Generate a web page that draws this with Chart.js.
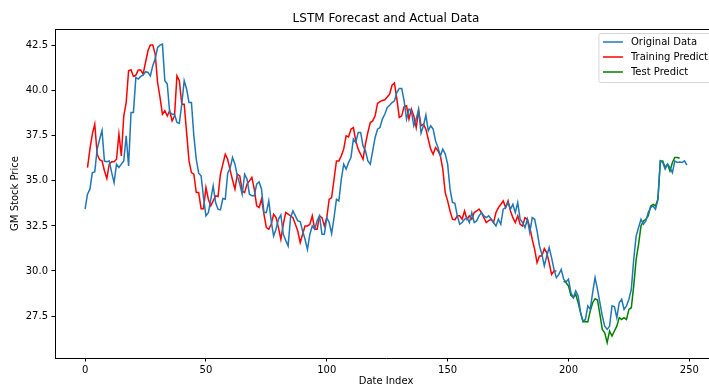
<!DOCTYPE html>
<html><head><meta charset="utf-8">
<script src="https://cdn.jsdelivr.net/npm/chart.js@4/dist/chart.umd.min.js"></script>
<style>
html,body{margin:0;padding:0;overflow:hidden;background:#fff;width:709px;height:387px;}
#wrap{position:absolute;left:0;top:0;width:730px;height:387px;}
</style></head><body>
<div id="wrap"><canvas id="c" width="730" height="387"></canvas></div>
<script>
// ---- data ----
const originalData = [
33.43,34.26,34.54,35.46,35.5,36.76,37.3,37.8,36.1,36.06,
36.1,35.46,34.9,35.93,35.74,35.93,36.1,37.5,35.83,38.8,
38.8,40.74,40.65,40.8,40.87,41.06,41.02,40.83,41.39,41.76,
42.41,42.54,42.59,40.56,40.37,38.8,38.7,38.7,38.24,38.2,
39.26,40.56,40.1,39.35,39.35,37.5,36.2,35.43,35.28,34.07,
33.06,33.24,33.98,34.72,33.8,33.43,33.39,34.02,33.98,35.43,
35.7,36.3,35.93,35.28,34.82,34.26,35.37,35.1,34.26,34.17,
34.17,34.82,34.95,34.54,33.24,33.24,33.89,32.78,31.94,32.32,
32.87,33.11,32.04,31.7,31.39,32.96,33.33,33.06,32.78,32.74,
32.22,31.76,31.2,32.04,32.5,32.32,32.78,33.06,32.04,32.04,
32.96,32.69,32.07,32.96,33.98,33.89,35.09,35.93,35.65,36.02,
36.3,37.32,37.13,37.69,37.69,36.94,36.67,36.11,35.93,36.67,
37.41,37.87,37.96,38.43,38.7,39.07,39.2,39.35,39.44,39.91,
40.13,40.13,39.44,38.43,38.98,38.9,38.06,38.43,38.98,37.65,
38.06,38.65,37.78,38.06,37.87,37.22,36.85,36.39,36.76,36.5,
35.93,34.54,33.8,33.75,33.06,32.59,32.69,32.87,32.96,32.69,
33.24,32.69,32.78,33.06,33.24,33.06,32.96,33.06,32.87,32.69,
32.5,32.87,32.59,33.43,33.52,33.8,33.43,33.7,33.24,33.8,
32.87,32.69,32.41,32.87,32.13,32.96,32.87,32.22,31.39,30.93,
30.28,30.83,31.3,30.74,30.09,29.63,29.81,30.09,29.54,29.39,
29.54,28.8,28.52,28.89,28.61,27.69,27.22,27.31,28.06,27.87,
28.8,29.63,28.98,28.24,27.5,26.94,26.76,26.94,28.06,28.02,
27.41,28.24,28.43,27.87,28.06,28.43,28.98,30.65,31.94,32.41,
32.87,32.59,32.78,33.24,33.52,33.61,33.43,33.98,36.11,36.02,
35.65,35.93,35.74,35.46,36.11,36.02,36.05,36.02,36.11,35.87
];
const trainStart = 1;
const trainPredict = [
35.74,36.76,37.6,38.15,36.48,36.17,36.11,35.56,35.13,35.93,
36.06,36.06,36.2,37.6,36.39,38.6,39.35,41.11,41.17,40.8,
40.87,41.15,41.15,40.93,41.57,42.22,42.54,42.54,42.04,40.46,
39.63,38.7,38.89,38.6,38.89,38.33,38.6,40.83,40.56,39.26,
39.26,37.69,36.11,35.46,35.37,34.35,34.35,33.46,33.46,34.63,
33.98,33.61,33.89,34.17,34.13,35.37,35.93,36.48,36.2,35.6,
35.05,34.54,35.37,35.28,34.44,34.35,34.82,35.0,35.19,34.54,
33.61,33.52,33.98,33.15,32.41,32.32,32.59,33.15,32.96,32.41,
31.76,32.59,33.24,33.15,33.06,32.96,32.59,32.22,31.57,32.04,
32.5,32.5,32.59,33.06,32.32,32.32,33.06,32.96,32.5,32.96,
33.98,34.07,35.09,36.11,36.11,36.39,36.76,37.5,37.44,37.87,
37.96,37.22,36.76,36.48,36.2,37.04,37.69,38.24,38.33,38.61,
39.3,39.4,39.46,39.5,39.65,39.81,40.31,40.43,39.54,38.52,
38.61,39.13,39.17,38.43,38.98,38.61,37.96,38.89,38.06,38.15,
37.87,37.31,36.76,36.48,36.85,36.67,36.39,35.65,34.35,33.89,
33.33,32.87,32.83,33.06,33.06,32.87,33.33,32.87,33.06,32.87,
33.24,33.33,33.43,33.24,32.96,32.69,32.8,32.87,32.69,33.24,
33.52,33.7,33.89,33.52,33.89,33.33,32.96,32.69,33.06,32.59,
32.5,32.96,32.87,32.41,31.76,31.2,30.46,30.83,30.83,31.24,
31.02,30.46,29.81,30.0,30.0
];
const testStart = 198;
const testPredict = [
29.44,29.35,29.17,28.65,28.52,28.7,28.24,27.69,27.17,27.2,
27.17,27.78,28.24,28.46,28.39,27.59,26.76,26.57,26.02,26.67,
26.39,26.67,26.94,27.41,27.31,27.41,27.31,27.87,27.96,29.17,
30.65,31.48,32.5,32.78,32.87,33.06,33.6,33.7,33.61,33.98,
36.11,36.11,35.74,35.93,35.55,36.02,36.3,36.3,36.26
];
const seriesNames = ['Original Data', 'Training Predict', 'Test Predict'];
const xTicks = [0, 50, 100, 150, 200, 250];
const yTicks = [27.5, 30.0, 32.5, 35.0, 37.5, 40.0, 42.5];

// ---- build points ----
const toPts = (arr, start) => arr.map((v, k) => ({x: start + k, y: v}));

const FONT = "'DejaVu Sans', sans-serif";

const framePlugin = {
  id: 'frame',
  afterLayout(chart) {
    // center the title over the axes, like matplotlib
    const t = chart.titleBlock;
    if (t) {
      t.left = chart.chartArea.left;
      t.right = chart.chartArea.right;
      t.width = t.right - t.left;
    }
  },
  afterDraw(chart) {
    const {ctx, chartArea: a} = chart;
    ctx.save();
    ctx.strokeStyle = '#000';
    ctx.lineWidth = 1;
    ctx.beginPath();
    ctx.moveTo(a.left, Math.round(a.top) + 0.5);
    ctx.lineTo(a.right, Math.round(a.top) + 0.5);
    ctx.moveTo(Math.round(a.right) + 0.5, a.top);
    ctx.lineTo(Math.round(a.right) + 0.5, a.bottom);
    ctx.stroke();
    // legend (matplotlib style, upper right inside axes)
    ctx.font = '10px ' + FONT;
    const ds = chart.data.datasets;
    let tw = 0;
    ds.forEach(d => { tw = Math.max(tw, ctx.measureText(d.label).width); });
    const boxW = 4 + 20 + 8 + tw + 4;
    const boxH = 49;
    const x0 = a.right - 5 - boxW;
    const y0 = a.top + 4.5;
    ctx.beginPath();
    const r = 2;
    ctx.moveTo(x0 + r, y0);
    ctx.lineTo(x0 + boxW - r, y0);
    ctx.arcTo(x0 + boxW, y0, x0 + boxW, y0 + r, r);
    ctx.lineTo(x0 + boxW, y0 + boxH - r);
    ctx.arcTo(x0 + boxW, y0 + boxH, x0 + boxW - r, y0 + boxH, r);
    ctx.lineTo(x0 + r, y0 + boxH);
    ctx.arcTo(x0, y0 + boxH, x0, y0 + boxH - r, r);
    ctx.lineTo(x0, y0 + r);
    ctx.arcTo(x0, y0, x0 + r, y0, r);
    ctx.closePath();
    ctx.fillStyle = 'rgba(255,255,255,0.8)';
    ctx.fill();
    ctx.strokeStyle = '#d6d6d6';
    ctx.lineWidth = 1;
    ctx.stroke();
    ds.forEach((d, i) => {
      const cy = y0 + 8.5 + i * 15;
      ctx.strokeStyle = d.borderColor;
      ctx.lineWidth = 1.5;
      ctx.beginPath();
      ctx.moveTo(x0 + 4, cy);
      ctx.lineTo(x0 + 24, cy);
      ctx.stroke();
      ctx.fillStyle = '#000';
      ctx.textBaseline = 'middle';
      ctx.textAlign = 'left';
      ctx.fillText(d.label, x0 + 32, cy + 0.5);
    });
    ctx.restore();
  }
};

new Chart(document.getElementById('c'), {
  type: 'line',
  data: {
    datasets: [
      {label: seriesNames[0], data: toPts(originalData, 0), borderColor: '#1f77b4'},
      {label: seriesNames[1], data: toPts(trainPredict, trainStart), borderColor: '#ff0000'},
      {label: seriesNames[2], data: toPts(testPredict, testStart), borderColor: '#008000'}
    ].map(d => Object.assign(d, {borderWidth: 1.5, pointRadius: 0, tension: 0, fill: false}))
  },
  options: {
    responsive: false,
    animation: false,
    devicePixelRatio: 1,
    layout: {padding: {left: 0, right: 13, top: 0, bottom: 0}},
    plugins: {
      legend: {display: false},
      tooltip: {enabled: false},
      title: {
        display: true,
        text: 'LSTM Forecast and Actual Data',
        color: '#000',
        font: {family: FONT, size: 12, weight: 'normal'},
        padding: {top: 11.5, bottom: 3.1}
      }
    },
    scales: {
      x: {
        type: 'linear',
        min: -12.45,
        max: 261.45,
        afterBuildTicks: s => { s.ticks = xTicks.map(v => ({value: v})); },
        afterFit: s => { s.height = 29; },
        ticks: {color: '#000', font: {family: FONT, size: 10}, padding: 3, maxRotation: 0, autoSkip: false},
        grid: {drawOnChartArea: false, drawTicks: true, tickLength: 3.5, color: '#000', lineWidth: 1},
        border: {display: true, color: '#000', width: 1},
        title: {display: true, text: 'Date Index', color: '#000', font: {family: FONT, size: 10}, padding: {top: 0, bottom: 0}}
      },
      y: {
        type: 'linear',
        min: 25.17,
        max: 43.43,
        afterBuildTicks: s => { s.ticks = yTicks.map(v => ({value: v})); },
        afterFit: s => { s.width = 55; },
        ticks: {color: '#000', font: {family: FONT, size: 10}, padding: 3.5, callback: v => Number(v).toFixed(1)},
        grid: {drawOnChartArea: false, drawTicks: true, tickLength: 3.5, color: '#000', lineWidth: 1},
        border: {display: true, color: '#000', width: 1},
        title: {display: true, text: 'GM Stock Price', color: '#000', font: {family: FONT, size: 10}, padding: {top: 9, bottom: 0}}
      }
    }
  },
  plugins: [framePlugin]
});
</script>
</body></html>
